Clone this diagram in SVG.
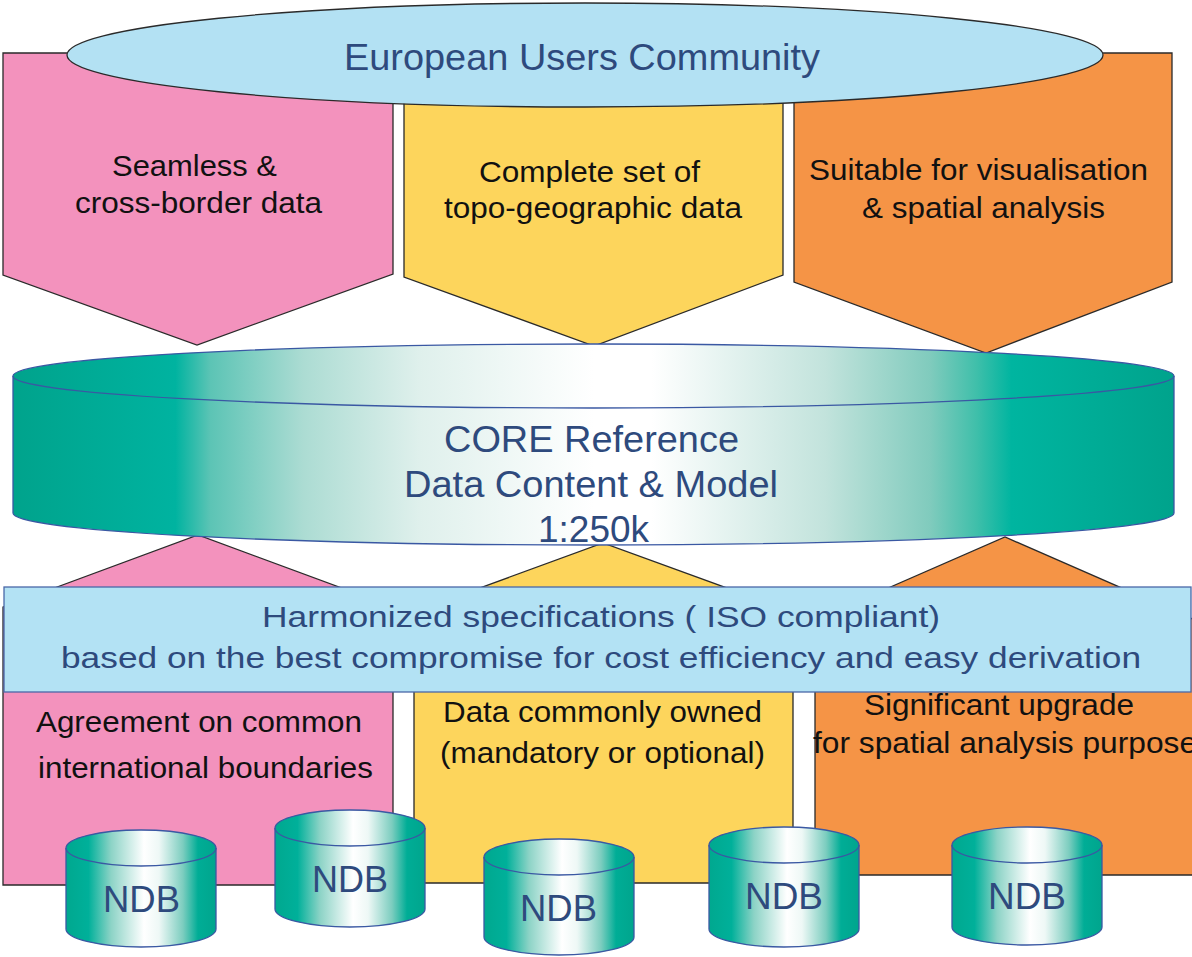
<svg xmlns="http://www.w3.org/2000/svg" width="1192" height="957" viewBox="0 0 1192 957">
<defs>
<style>
.pent{stroke:#2a2a2a;stroke-width:1.3}
.pink{fill:#f392bd}
.yel{fill:#fdd55c}
.ora{fill:#f59446}
.dark{font-family:"Liberation Sans",Arial,sans-serif;fill:#111;font-size:30px}
.blue{font-family:"Liberation Sans",Arial,sans-serif;fill:#2e4a7d}
.cylb{stroke:#3a58a3;stroke-width:1.3}
.ndb{fill:url(#gNdb);stroke:#3a58a3;stroke-width:1.3}
.ndbl{fill:none;stroke:#3a58a3;stroke-width:1.3}
.ndbt{font-family:"Liberation Sans",Arial,sans-serif;fill:#2e4a7d;font-size:37px}
</style>
<linearGradient id="gCore" gradientUnits="userSpaceOnUse" x1="13" y1="0" x2="1174" y2="0">
<stop offset="0" stop-color="#00a38c"/>
<stop offset="0.14" stop-color="#00b3a0"/>
<stop offset="0.17" stop-color="#5cc4b5"/>
<stop offset="0.25" stop-color="#acdcd3"/>
<stop offset="0.35" stop-color="#dff0ec"/>
<stop offset="0.5" stop-color="#ffffff"/>
<stop offset="0.55" stop-color="#ffffff"/>
<stop offset="0.7" stop-color="#c2e3dc"/>
<stop offset="0.79" stop-color="#80cbbd"/>
<stop offset="0.83" stop-color="#3fbfaa"/>
<stop offset="0.86" stop-color="#00b5a0"/>
<stop offset="1" stop-color="#00a38c"/>
</linearGradient>
<linearGradient id="gNdb" x1="0" y1="0" x2="1" y2="0">
<stop offset="0" stop-color="#00a88f"/>
<stop offset="0.15" stop-color="#00b09a"/>
<stop offset="0.3" stop-color="#8cd3c6"/>
<stop offset="0.52" stop-color="#ffffff"/>
<stop offset="0.62" stop-color="#eef8f6"/>
<stop offset="0.78" stop-color="#7ccdbf"/>
<stop offset="0.88" stop-color="#00ad96"/>
<stop offset="1" stop-color="#00a58d"/>
</linearGradient>
</defs>
<rect width="1192" height="957" fill="#ffffff"/>

<g id="lower-pink">
<polygon class="pent pink" points="3,607 198,535 393,607 393,885 3,885"/>
<text class="dark" x="36" y="732" font-size="29" textLength="326" lengthAdjust="spacingAndGlyphs">Agreement on common</text>
<text class="dark" x="38" y="778" font-size="29" textLength="335" lengthAdjust="spacingAndGlyphs">international boundaries</text>
</g>
<g id="lower-yellow">
<polygon class="pent yel" points="414,612 603,543 793,612 793,883 414,883"/>
<text class="dark" x="443" y="722" font-size="29" textLength="319" lengthAdjust="spacingAndGlyphs">Data commonly owned</text>
<text class="dark" x="440" y="763" font-size="29" textLength="325" lengthAdjust="spacingAndGlyphs">(mandatory or optional)</text>
</g>
<g id="lower-orange">
<polygon class="pent ora" points="815,620 1005,537 1195,620 1195,875 815,875"/>
<text class="dark" x="864" y="715" font-size="29" textLength="270" lengthAdjust="spacingAndGlyphs">Significant upgrade</text>
<text class="dark" x="813" y="753" font-size="29" textLength="384" lengthAdjust="spacingAndGlyphs">for spatial analysis purpose</text>
</g>

<g id="upper-pink">
<polygon class="pent pink" points="3,53 393,53 393,274 197,345 3,275"/>
<text class="dark" x="112" y="176" textLength="165" lengthAdjust="spacingAndGlyphs">Seamless &amp;</text>
<text class="dark" x="75" y="213" textLength="247" lengthAdjust="spacingAndGlyphs">cross-border data</text>
</g>
<g id="upper-yellow">
<polygon class="pent yel" points="404,53 783,53 783,275 594,346 404,277"/>
<text class="dark" x="479" y="182" textLength="221" lengthAdjust="spacingAndGlyphs">Complete set of</text>
<text class="dark" x="444" y="218" textLength="298" lengthAdjust="spacingAndGlyphs">topo-geographic data</text>
</g>
<g id="upper-orange">
<polygon class="pent ora" points="794,53 1172,53 1172,282 986,353 794,282"/>
<text class="dark" x="809" y="180" textLength="339" lengthAdjust="spacingAndGlyphs">Suitable for visualisation</text>
<text class="dark" x="862" y="218" textLength="243" lengthAdjust="spacingAndGlyphs">&amp; spatial analysis</text>
</g>

<g id="users-community">
<ellipse cx="585" cy="55" rx="518" ry="52" fill="#b3e1f3" stroke="#2a2a2a" stroke-width="1.3"/>
<text class="blue" x="344" y="70" font-size="36" textLength="476" lengthAdjust="spacingAndGlyphs">European Users Community</text>
</g>

<g id="core-reference">
<path class="cylb" fill="url(#gCore)" d="M13,376 A580.5,32 0 0 1 1174,376 L1174,513 A580.5,32 0 0 1 13,513 Z"/>
<path class="cylb" fill="none" d="M13,376 A580.5,32 0 0 0 1174,376"/>
<text class="blue" x="444" y="452" font-size="37" textLength="295" lengthAdjust="spacingAndGlyphs">CORE Reference</text>
<text class="blue" x="404" y="497" font-size="37" textLength="374" lengthAdjust="spacingAndGlyphs">Data Content &amp; Model</text>
<text class="blue" x="538" y="542" font-size="37" textLength="111" lengthAdjust="spacingAndGlyphs">1:250k</text>
</g>

<g id="harmonized">
<rect x="4" y="587" width="1187" height="105" fill="#b3e2f4" stroke="#4a68a8" stroke-width="1.3"/>
<text class="blue" x="262" y="627" font-size="30" textLength="678" lengthAdjust="spacingAndGlyphs">Harmonized specifications ( ISO compliant)</text>
<text class="blue" x="61" y="668" font-size="30" textLength="1080" lengthAdjust="spacingAndGlyphs">based on the best compromise for cost efficiency and easy derivation</text>
</g>

<g id="ndb1">
<path class="ndb" d="M66,848 A75,18 0 0 1 216,848 L216,929 A75,18 0 0 1 66,929 Z"/>
<path class="ndbl" d="M66,848 A75,18 0 0 0 216,848"/>
<text class="ndbt" x="103" y="912" textLength="77" lengthAdjust="spacingAndGlyphs">NDB</text>
</g>
<g id="ndb2">
<path class="ndb" d="M275,828 A75,18 0 0 1 425,828 L425,909 A75,18 0 0 1 275,909 Z"/>
<path class="ndbl" d="M275,828 A75,18 0 0 0 425,828"/>
<text class="ndbt" x="312" y="892" textLength="76" lengthAdjust="spacingAndGlyphs">NDB</text>
</g>
<g id="ndb3">
<path class="ndb" d="M484,857 A75,18 0 0 1 634,857 L634,937 A75,18 0 0 1 484,937 Z"/>
<path class="ndbl" d="M484,857 A75,18 0 0 0 634,857"/>
<text class="ndbt" x="520" y="921" textLength="77" lengthAdjust="spacingAndGlyphs">NDB</text>
</g>
<g id="ndb4">
<path class="ndb" d="M709,845 A75,18 0 0 1 859,845 L859,929 A75,18 0 0 1 709,929 Z"/>
<path class="ndbl" d="M709,845 A75,18 0 0 0 859,845"/>
<text class="ndbt" x="745" y="909" textLength="78" lengthAdjust="spacingAndGlyphs">NDB</text>
</g>
<g id="ndb5">
<path class="ndb" d="M952,845 A75,18 0 0 1 1102,845 L1102,927 A75,18 0 0 1 952,927 Z"/>
<path class="ndbl" d="M952,845 A75,18 0 0 0 1102,845"/>
<text class="ndbt" x="988" y="909" textLength="78" lengthAdjust="spacingAndGlyphs">NDB</text>
</g>
</svg>
